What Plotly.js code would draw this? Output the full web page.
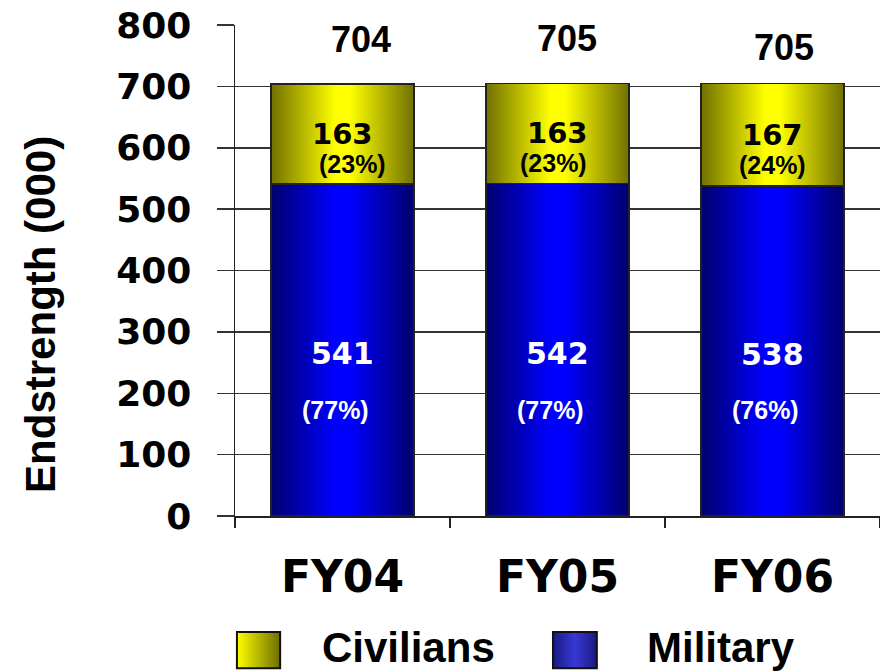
<!DOCTYPE html>
<html>
<head>
<meta charset="utf-8">
<script src="https://cdn.plot.ly/plotly-3.0.1.min.js"></script>
<style>html,body{margin:0;padding:0;background:#fff;}#chart{width:880px;height:672px;}</style>
</head>
<body>
<div id="chart"></div>
<script>
// ---- data ----
const categories = ["FY04", "FY05", "FY06"];
const military = [541, 542, 538];
const civilians = [163, 163, 167];
const militaryPct = ["(77%)", "(77%)", "(76%)"];
const civilianPct = ["(23%)", "(23%)", "(24%)"];
const totals = military.map((m, i) => m + civilians[i]);
const yTicks = [0, 100, 200, 300, 400, 500, 600, 700, 800];

const heavy = "DejaVu Sans, Arial Black, sans-serif";
const boldArial = "Liberation Sans, Arial, sans-serif";

const traces = [
  { type: "bar", name: "Military", x: categories, y: military,
    marker: { color: "#0000d0", line: { color: "#222", width: 1.5 } },
    hoverinfo: "skip", showlegend: false },
  { type: "bar", name: "Civilians", x: categories, y: civilians,
    marker: { color: "#e0e000", line: { color: "#222", width: 1.5 } },
    hoverinfo: "skip", showlegend: false }
];

const annotations = [];
const totShift = [22, 22, 13];
const totX = [18, 9, 11];
categories.forEach((c, i) => {
  annotations.push({ x: c, y: totals[i], text: String(totals[i]), showarrow: false,
    yanchor: "bottom", yshift: totShift[i], xshift: totX[i],
    font: { family: boldArial, size: 36, color: "#000", weight: 700 } });
  annotations.push({ x: c, y: military[i] + civilians[i] * 0.5, text: String(civilians[i]), showarrow: false,
    font: { family: heavy, size: 29, color: "#000", weight: 700 } });
  annotations.push({ x: c, y: military[i] + civilians[i] * 0.2, text: civilianPct[i], showarrow: false,
    xshift: [10, -4, 0][i],
    font: { family: boldArial, size: 25, color: "#000", weight: 700 } });
  annotations.push({ x: c, y: military[i] * 0.49, text: String(military[i]), showarrow: false,
    font: { family: heavy, size: 30, color: "#fff", weight: 700 } });
  annotations.push({ x: c, y: military[i] * 0.32, text: militaryPct[i], showarrow: false,
    xshift: -7,
    font: { family: boldArial, size: 25, color: "#fff", weight: 700 } });
});
// y-axis title
annotations.push({ xref: "paper", yref: "paper", x: -0.302, y: 0.41, text: "Endstrength (000)",
  textangle: -90, showarrow: false, xanchor: "center", yanchor: "middle",
  font: { family: boldArial, size: 42, color: "#000", weight: 700 } });
// legend labels
annotations.push({ xref: "paper", yref: "paper", x: 0.132, y: -0.268, text: "Civilians",
  showarrow: false, xanchor: "left", yanchor: "middle",
  font: { family: boldArial, size: 42, color: "#000", weight: 700 } });
annotations.push({ xref: "paper", yref: "paper", x: 0.636, y: -0.268, text: "Military",
  showarrow: false, xanchor: "left", yanchor: "middle",
  font: { family: boldArial, size: 42, color: "#000", weight: 700 } });

const shapes = [
  { type: "rect", xref: "paper", yref: "paper", x0: 0.003, x1: 0.070, y0: -0.236, y1: -0.310,
    fillcolor: "#e0e000", line: { color: "#111", width: 2 } },
  { type: "rect", xref: "paper", yref: "paper", x0: 0.493, x1: 0.561, y0: -0.236, y1: -0.310,
    fillcolor: "#3030c0", line: { color: "#111", width: 2 } }
];

const layout = {
  width: 880, height: 672,
  margin: { l: 235, r: 0, t: 25, b: 156, pad: 0 },
  paper_bgcolor: "#fff", plot_bgcolor: "#fff",
  barmode: "stack", bargap: 0.335,
  showlegend: false,
  xaxis: {
    type: "category", range: [-0.5, 2.5], fixedrange: true,
    showline: true, linecolor: "#222", linewidth: 1.5,
    ticks: "outside", tickson: "boundaries", ticklen: 10, tickwidth: 1.5, tickcolor: "#222",
    tickfont: { family: heavy, size: 44, color: "#000", weight: 700 },
    ticklabelstandoff: 22, showgrid: false
  },
  yaxis: {
    range: [0, 800], tickvals: yTicks, fixedrange: true,
    showline: true, linecolor: "#222", linewidth: 1.5,
    ticks: "outside", ticklen: 17, tickwidth: 1.5, tickcolor: "#333",
    showgrid: true, gridcolor: "#333", gridwidth: 1.5, zeroline: false,
    tickfont: { family: heavy, size: 36, color: "#000", weight: 700 },
    ticklabelstandoff: 18
  },
  annotations: annotations,
  shapes: shapes
};

const gd = document.getElementById("chart");
Plotly.newPlot(gd, traces, layout, { staticPlot: true, displayModeBar: false }).then(() => {
  const NS = "http://www.w3.org/2000/svg";
  const svg = gd.querySelector("svg.main-svg");
  let defs = svg.querySelector("defs");
  if (!defs) { defs = document.createElementNS(NS, "defs"); svg.insertBefore(defs, svg.firstChild); }
  function grad(id, stops) {
    const g = document.createElementNS(NS, "linearGradient");
    g.setAttribute("id", id);
    g.setAttribute("x1", "0"); g.setAttribute("x2", "1"); g.setAttribute("y1", "0"); g.setAttribute("y2", "0");
    stops.forEach(([o, c]) => {
      const s = document.createElementNS(NS, "stop");
      s.setAttribute("offset", o); s.setAttribute("stop-color", c);
      g.appendChild(s);
    });
    defs.appendChild(g);
  }
  grad("gMil", [[0, "#00006e"], [0.45, "#0000ff"], [0.55, "#0000ff"], [1, "#00006e"]]);
  grad("gCiv", [[0, "#707000"], [0.45, "#ffff00"], [0.55, "#ffff00"], [1, "#707000"]]);
  grad("gLegCiv", [[0, "#ffff00"], [1, "#6e6e00"]]);
  grad("gLegMil", [[0, "#1a1a80"], [0.5, "#3838d8"], [1, "#1a1a80"]]);
  const barTraces = gd.querySelectorAll(".barlayer .trace");
  barTraces.forEach((t, i) => {
    t.querySelectorAll(".point path").forEach(p => { p.style.fill = i === 0 ? "url(#gMil)" : "url(#gCiv)"; });
  });
  const shp = gd.querySelectorAll(".shapelayer path");
  if (shp[0]) shp[0].style.fill = "url(#gLegCiv)";
  if (shp[1]) shp[1].style.fill = "url(#gLegMil)";
});
</script>
</body>
</html>
